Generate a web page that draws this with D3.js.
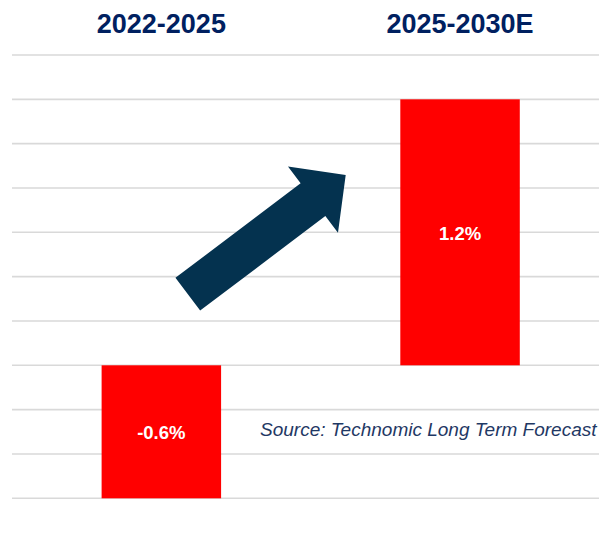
<!DOCTYPE html>
<html>
<head>
<meta charset="utf-8">
<script src="https://cdn.jsdelivr.net/npm/d3@7"></script>
<style>
  html, body { margin: 0; padding: 0; background: #ffffff; }
  svg { display: block; }
</style>
</head>
<body>
<div id="chart"></div>
<script>
// Period growth rates (%)
const periods = ["2022-2025", "2025-2030E"];
const growth = [-0.6, 1.2];
const valueLabels = ["-0.6%", "1.2%"];
const gridTicks = [-0.6, -0.4, -0.2, 0, 0.2, 0.4, 0.6, 0.8, 1.0, 1.2, 1.4];
const sourceNote = "Source: Technomic Long Term Forecast";

const W = 599, H = 540;
const svg = d3.select("#chart").append("svg")
  .attr("width", W).attr("height", H);

const x = d3.scaleBand()
  .domain(periods)
  .range([12, 609.4])
  .paddingInner(0.6)
  .paddingOuter(0.3);

const y = d3.scaleLinear()
  .domain([-0.6, 1.4])
  .range([498.3, 55]);

// Horizontal gridlines
svg.append("g")
  .selectAll("line")
  .data(gridTicks)
  .join("line")
  .attr("x1", 12).attr("x2", W)
  .attr("y1", d => y(d)).attr("y2", d => y(d))
  .attr("stroke", "#d9d9d9")
  .attr("stroke-width", 1.6);

// Period headings
svg.append("g")
  .selectAll("text")
  .data(periods)
  .join("text")
  .attr("x", d => x(d) + x.bandwidth() / 2)
  .attr("y", 33)
  .attr("text-anchor", "middle")
  .attr("font-family", "Liberation Sans, Arial, sans-serif")
  .attr("font-weight", "bold")
  .attr("font-size", 27)
  .attr("fill", "#002060")
  .text(d => d);

// Bars
const rows = periods.map((p, i) => ({ p, v: growth[i], label: valueLabels[i] }));
svg.append("g")
  .selectAll("rect")
  .data(rows)
  .join("rect")
  .attr("x", d => x(d.p))
  .attr("width", x.bandwidth())
  .attr("y", d => y(Math.max(0, d.v)))
  .attr("height", d => Math.abs(y(d.v) - y(0)))
  .attr("fill", "#ff0000");

// Value labels centred in each bar
svg.append("g")
  .selectAll("text")
  .data(rows)
  .join("text")
  .attr("x", d => x(d.p) + x.bandwidth() / 2)
  .attr("y", d => (y(d.v) + y(0)) / 2)
  .attr("dy", "0.4em")
  .attr("text-anchor", "middle")
  .attr("font-family", "Liberation Sans, Arial, sans-serif")
  .attr("font-weight", "bold")
  .attr("font-size", 18.5)
  .attr("fill", "#ffffff")
  .text(d => d.label);

// Upward block arrow between the two periods
const tail = [187.8, 294.2], tip = [345.7, 175];
const shaftW = 41, headW = 83, headL = 41;
const dx = tip[0] - tail[0], dy = tip[1] - tail[1];
const len = Math.hypot(dx, dy);
const ux = dx / len, uy = dy / len, nx = -uy, ny = ux;
const base = [tip[0] - ux * headL, tip[1] - uy * headL];
const pt = (p, s) => [p[0] + nx * s, p[1] + ny * s];
const arrowPts = [
  pt(tail, shaftW / 2), pt(base, shaftW / 2), pt(base, headW / 2),
  tip,
  pt(base, -headW / 2), pt(base, -shaftW / 2), pt(tail, -shaftW / 2)
];
svg.append("path")
  .attr("d", d3.line()(arrowPts) + "Z")
  .attr("fill", "#04324f");

// Source note
svg.append("text")
  .attr("x", 260)
  .attr("y", 436)
  .attr("font-family", "Liberation Sans, Arial, sans-serif")
  .attr("font-style", "italic")
  .attr("font-size", 19)
  .attr("fill", "#1f3864")
  .text(sourceNote);
</script>
</body>
</html>
